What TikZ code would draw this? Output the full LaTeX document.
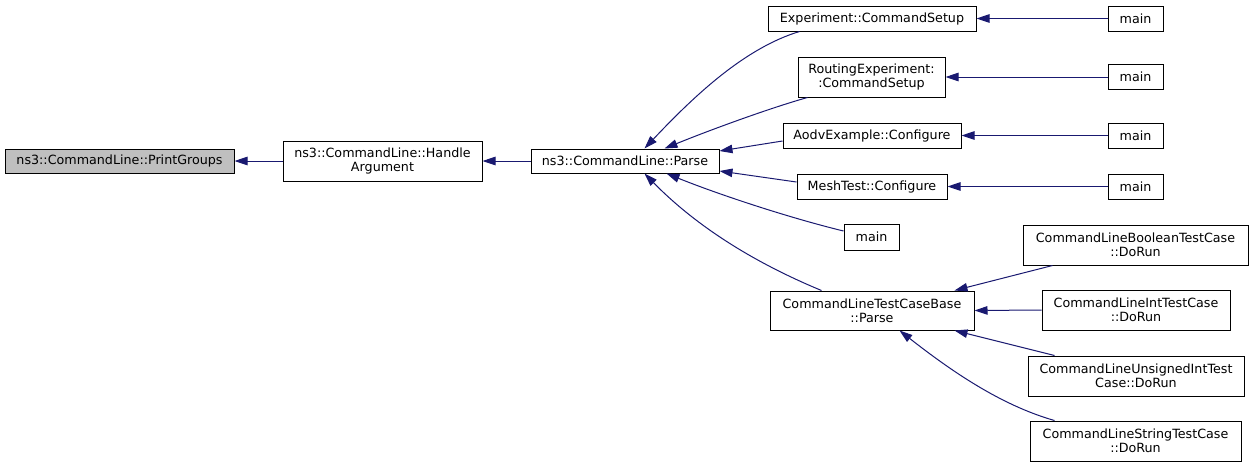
\documentclass[tikz,border=0pt]{standalone}
\usepackage{fontspec}
\setmainfont{DejaVu Sans}
\usetikzlibrary{arrows.meta,calc}
\definecolor{edgecol}{HTML}{191970}
\definecolor{grayfill}{HTML}{BFBFBF}
\tikzset{
  box/.style={draw=black, line width=1pt, fill=white, inner sep=0pt, align=center, font=\fontsize{12.7}{14}\selectfont},
  edge/.style={draw=edgecol, line width=1pt, {Triangle[length=13pt,width=8.5pt]}-},
}
\begin{document}
\begin{tikzpicture}[x=1pt,y=-1pt]
\useasboundingbox (0,0) rectangle (1253,467);
\node[box, fill=grayfill, minimum width=229pt, minimum height=24pt] (pg) at (119.5,161) {ns3::CommandLine::PrintGroups};
\node[box, minimum width=199pt, minimum height=40pt] (ha) at (382.5,161) {ns3::CommandLine::Handle\\Argument};
\node[box, minimum width=188pt, minimum height=24pt] (parse) at (625,161) {ns3::CommandLine::Parse};
\node[box, minimum width=208pt, minimum height=25pt] (exp) at (872,18.5) {Experiment::CommandSetup};
\node[box, minimum width=147pt, minimum height=40pt] (rout) at (871.5,77) {RoutingExperiment:\\:CommandSetup};
\node[box, minimum width=178pt, minimum height=25pt] (aodv) at (872,135.5) {AodvExample::Configure};
\node[box, minimum width=150pt, minimum height=25pt] (mesh) at (872,186.5) {MeshTest::Configure};
\node[box, minimum width=55pt, minimum height=26pt] (mainm) at (871.5,237) {main};
\node[box, minimum width=204pt, minimum height=39pt] (tcb) at (872,310.5) {CommandLineTestCaseBase\\::Parse};
\node[box, minimum width=55pt, minimum height=25pt] (m1) at (1135.5,18.5) {main};
\node[box, minimum width=55pt, minimum height=25pt] (m2) at (1135.5,77) {main};
\node[box, minimum width=55pt, minimum height=25pt] (m3) at (1135.5,135.5) {main};
\node[box, minimum width=55pt, minimum height=25pt] (m4) at (1135.5,186.5) {main};
\node[box, minimum width=225pt, minimum height=40pt] (bool) at (1135.5,245) {CommandLineBooleanTestCase\\::DoRun};
\node[box, minimum width=188pt, minimum height=40pt] (int) at (1136,310) {CommandLineIntTestCase\\::DoRun};
\node[box, minimum width=216pt, minimum height=40pt] (uns) at (1136,376) {CommandLineUnsignedIntTest\\Case::DoRun};
\node[box, minimum width=211pt, minimum height=40pt] (str) at (1135.5,441) {CommandLineStringTestCase\\::DoRun};

\draw[edge] (pg.east) -- (ha.west);
\draw[edge] (ha.east) -- (parse.west);
\draw[edge] ($(parse.north west)+(114,0)$) .. controls (695,95) and (745,48) .. ($(exp.south west)+(32,0)$);
\draw[edge] ($(parse.north west)+(134,0)$) .. controls (710,130) and (770,108) .. ($(rout.south west)+(10,0)$);
\draw[edge] ($(parse.east)+(0,-10)$) -- ($(aodv.west)+(0,5.5)$);
\draw[edge] ($(parse.east)+(0,10)$) -- ($(mesh.west)+(0,-4.5)$);
\draw[edge] ($(parse.south west)+(136,0)$) .. controls (720,195) and (790,218) .. ($(mainm.west)+(0,-6)$);
\draw[edge] ($(parse.south west)+(114,0)$) .. controls (700,230) and (760,265) .. ($(tcb.north west)+(52,0)$);
\draw[edge] (exp.east) -- (m1.west);
\draw[edge] (rout.east) -- (m2.west);
\draw[edge] (aodv.east) -- (m3.west);
\draw[edge] (mesh.east) -- (m4.west);
\draw[edge] ($(tcb.north east)+(-20,0)$) -- ($(bool.south west)+(30,0)$);
\draw[edge] (tcb.east) -- (int.west);
\draw[edge] ($(tcb.south east)+(-20,0)$) -- ($(uns.north west)+(27,0)$);
\draw[edge] ($(tcb.south west)+(130,0)$) .. controls (950,370) and (1000,405) .. ($(str.north west)+(25,0)$);
\end{tikzpicture}
\end{document}
